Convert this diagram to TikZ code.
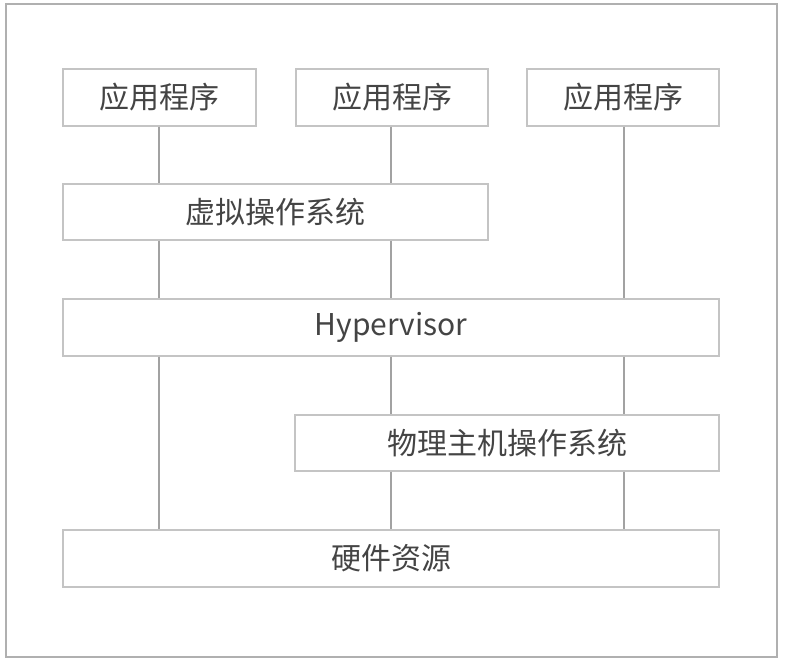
\documentclass[tikz,border=0pt]{standalone}
\usepackage{fontspec}
\setmainfont{Noto Sans CJK SC}
\begin{document}
\begin{tikzpicture}[x=1pt,y=-1pt,
  layer/.style={draw=boxgray, line width=1.3pt, rectangle, inner sep=0pt, text=txtgray, font=\fontsize{30}{33}\selectfont, anchor=center},
  link/.style={draw=linegray, line width=1.5pt}]
\definecolor{boxgray}{HTML}{C4C4C4}
\definecolor{linegray}{HTML}{A2A2A2}
\definecolor{txtgray}{HTML}{444444}
\definecolor{framegray}{HTML}{B0B0B0}
\useasboundingbox (0,0) rectangle (786,661);
\draw[draw=framegray, line width=1.3pt] (6,4) rectangle (777,657);
\node[layer, minimum width=193pt, minimum height=57pt] (app1) at (159.5,97.5) {应用程序};
\node[layer, minimum width=192pt, minimum height=57pt] (app2) at (392,97.5) {应用程序};
\node[layer, minimum width=192pt, minimum height=57pt] (app3) at (623,97.5) {应用程序};
\node[layer, minimum width=425pt, minimum height=56pt] (virt) at (275.5,212) {虚拟操作系统};
\node[layer, minimum width=656pt, minimum height=57pt] (hyper) at (391,327.5) {Hypervisor};
\node[layer, minimum width=424pt, minimum height=56pt] (phys) at (507,443) {物理主机操作系统};
\node[layer, minimum width=656pt, minimum height=57pt] (hw) at (391,558.5) {硬件资源};
\coordinate (c1) at (159,0);
\coordinate (c2) at (391,0);
\coordinate (c3) at (624,0);
\draw[link] (c1 |- app1.south) -- (c1 |- virt.north);
\draw[link] (c1 |- virt.south) -- (c1 |- hyper.north);
\draw[link] (c1 |- hyper.south) -- (c1 |- hw.north);
\draw[link] (c2 |- app2.south) -- (c2 |- virt.north);
\draw[link] (c2 |- virt.south) -- (c2 |- hyper.north);
\draw[link] (c2 |- hyper.south) -- (c2 |- phys.north);
\draw[link] (c2 |- phys.south) -- (c2 |- hw.north);
\draw[link] (c3 |- app3.south) -- (c3 |- hyper.north);
\draw[link] (c3 |- hyper.south) -- (c3 |- phys.north);
\draw[link] (c3 |- phys.south) -- (c3 |- hw.north);
\end{tikzpicture}
\end{document}
